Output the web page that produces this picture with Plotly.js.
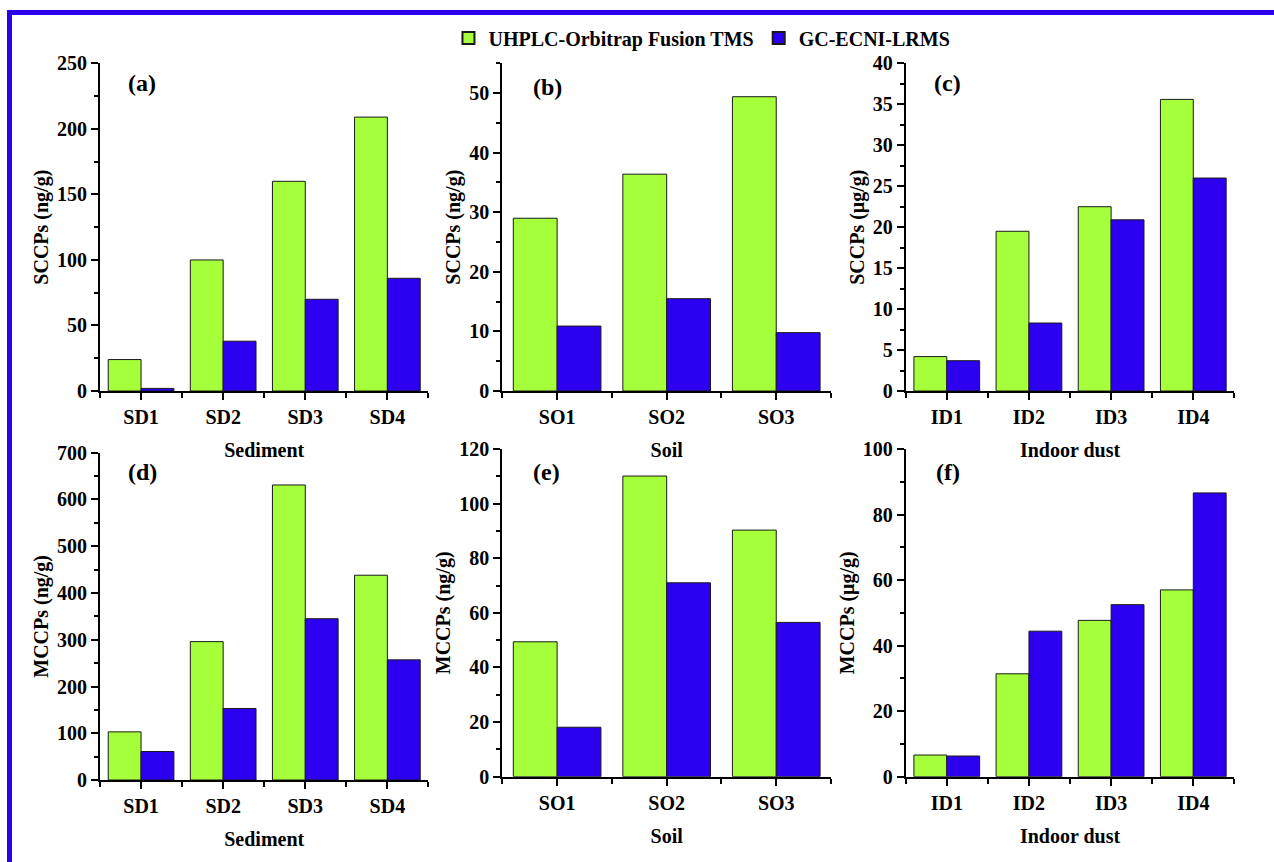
<!DOCTYPE html>
<html>
<head>
<meta charset="utf-8">
<script src="https://cdn.plot.ly/plotly-3.0.1.min.js"></script>
<style>
  html, body { margin: 0; padding: 0; background: #ffffff; }
  #chart { width: 1274px; height: 862px; }
</style>
</head>
<body>
<div id="chart"></div>
<script>
// ---- Data ----
const seriesNames = ["UHPLC-Orbitrap Fusion TMS", "GC-ECNI-LRMS"];

const sedimentSamples = ["SD1", "SD2", "SD3", "SD4"];
const soilSamples = ["SO1", "SO2", "SO3"];
const dustSamples = ["ID1", "ID2", "ID3", "ID4"];

// SCCPs
const sccpSedimentUHPLC = [24, 100, 160, 209];
const sccpSedimentGC = [2, 38, 70, 86];
const sccpSoilUHPLC = [29, 36.4, 49.4];
const sccpSoilGC = [10.9, 15.5, 9.8];
const sccpDustUHPLC = [4.2, 19.5, 22.5, 35.6];
const sccpDustGC = [3.7, 8.3, 20.9, 26.0];

// MCCPs
const mccpSedimentUHPLC = [103, 296, 631, 438];
const mccpSedimentGC = [61, 153, 345, 257];
const mccpSoilUHPLC = [49.4, 110.1, 90.3];
const mccpSoilGC = [18.1, 71.0, 56.5];
const mccpDustUHPLC = [6.6, 31.4, 47.7, 57.0];
const mccpDustGC = [6.3, 44.4, 52.5, 86.6];

const panelLabels = ["(a)", "(b)", "(c)", "(d)", "(e)", "(f)"];
const xTitles = ["Sediment", "Soil", "Indoor dust", "Sediment", "Soil", "Indoor dust"];
const yTitles = ["SCCPs (ng/g)", "SCCPs (ng/g)", "SCCPs (\u03bcg/g)", "MCCPs (ng/g)", "MCCPs (ng/g)", "MCCPs (\u03bcg/g)"];

// ---- Styling ----
const GREEN = "#a5ff3a";
const BLUE = "#2c00ee";
const FONT = "Liberation Serif, Times New Roman, serif";
const FS = 20;

const panels = [
  {cats: sedimentSamples, g: sccpSedimentUHPLC, b: sccpSedimentGC, range: [0, 250], dtick: 50},
  {cats: soilSamples, g: sccpSoilUHPLC, b: sccpSoilGC, range: [0, 55], dtick: 10},
  {cats: dustSamples, g: sccpDustUHPLC, b: sccpDustGC, range: [0, 40], dtick: 5},
  {cats: sedimentSamples, g: mccpSedimentUHPLC, b: mccpSedimentGC, range: [0, 700], dtick: 100},
  {cats: soilSamples, g: mccpSoilUHPLC, b: mccpSoilGC, range: [0, 120], dtick: 20},
  {cats: dustSamples, g: mccpDustUHPLC, b: mccpDustGC, range: [0, 100], dtick: 20}
];

const xDomains = [[0.0785, 0.3363], [0.3943, 0.6523], [0.7109, 0.9689]];
const yDomains = [[0.5464, 0.9265], [0.5464, 0.9265], [0.5464, 0.9265],
                  [0.0951, 0.4748], [0.0990, 0.4791], [0.0990, 0.4791]];
const labelPos = [[0.1112, 0.9037], [0.4301, 0.8994], [0.7441, 0.9037],
                  [0.1122, 0.4528], [0.4291, 0.4528], [0.7441, 0.4528]];

const traces = [];
const layout = {
  width: 1274, height: 862,
  margin: {l: 0, r: 0, t: 0, b: 0},
  paper_bgcolor: "#ffffff",
  plot_bgcolor: "rgba(0,0,0,0)",
  font: {family: FONT, size: FS, color: "#000000", weight: "bold"},
  barmode: "group",
  bargap: 0.2,
  bargroupgap: 0,
  showlegend: true,
  legend: {
    orientation: "h", x: 0.551, y: 0.956, xanchor: "center", yanchor: "middle",
    font: {family: FONT, size: 20, color: "#000000", weight: "bold"},
    bgcolor: "rgba(0,0,0,0)", itemsizing: "constant", traceorder: "normal"
  },
  annotations: [],
  shapes: [
    {type: "line", xref: "paper", yref: "paper", x0: 9.5/1274, x1: 9.5/1274, y0: 0, y1: 1 - 10/862,
     line: {color: "#2c00ee", width: 5}},
    {type: "line", xref: "paper", yref: "paper", x0: 7/1274, x1: 1, y0: 1 - 12.5/862, y1: 1 - 12.5/862,
     line: {color: "#2c00ee", width: 5}}
  ]
};

panels.forEach((p, i) => {
  const n = i + 1;
  const xa = n === 1 ? "x" : "x" + n;
  const ya = n === 1 ? "y" : "y" + n;
  const xs = p.cats.map((c, k) => k);
  const barStyle = (color) => ({color: color, line: {color: "#1a1a1a", width: 1}});
  traces.push({
    type: "bar", name: seriesNames[0], x: xs, y: p.g, xaxis: xa, yaxis: ya,
    marker: barStyle(GREEN), legendgroup: "g", showlegend: i === 0,
    customdata: p.cats, hovertemplate: "%{customdata}: %{y}<extra>" + seriesNames[0] + "</extra>"
  });
  traces.push({
    type: "bar", name: seriesNames[1], x: xs, y: p.b, xaxis: xa, yaxis: ya,
    marker: barStyle(BLUE), legendgroup: "b", showlegend: i === 0,
    customdata: p.cats, hovertemplate: "%{customdata}: %{y}<extra>" + seriesNames[1] + "</extra>"
  });

  const col = i % 3;
  const boundaries = [];
  for (let k = 0; k <= p.cats.length; k++) boundaries.push(k - 0.5);

  layout["xaxis" + (n === 1 ? "" : n)] = {
    domain: xDomains[col], anchor: ya,
    range: [-0.5, p.cats.length - 0.5],
    tickmode: "array", tickvals: xs, ticktext: p.cats,
    ticks: "outside", ticklen: 7, tickwidth: 2, tickcolor: "#000",
    minor: {tickmode: "array", tickvals: boundaries, ticks: "outside", ticklen: 5, tickwidth: 2, tickcolor: "#000"},
    showline: true, linecolor: "#000", linewidth: 2,
    showgrid: false, zeroline: false, fixedrange: true,
    tickfont: {family: FONT, size: FS, color: "#000", weight: "bold"},
    title: {text: xTitles[i], standoff: 16, font: {family: FONT, size: FS, color: "#000", weight: "bold"}}
  };
  layout["yaxis" + (n === 1 ? "" : n)] = {
    domain: yDomains[i], anchor: xa,
    range: p.range, tickmode: "linear", tick0: 0, dtick: p.dtick,
    ticks: "outside", ticklen: 7, tickwidth: 2, tickcolor: "#000",
    minor: {tick0: 0, dtick: p.dtick / 2, ticks: "outside", ticklen: 4, tickwidth: 2, tickcolor: "#000"},
    showline: true, linecolor: "#000", linewidth: 2,
    showgrid: false, zeroline: false, fixedrange: true,
    tickfont: {family: FONT, size: FS, color: "#000", weight: "bold"},
    title: {text: yTitles[i], standoff: 3, font: {family: FONT, size: FS, color: "#000", weight: "bold"}}
  };

  layout.annotations.push({
    text: panelLabels[i], xref: "paper", yref: "paper",
    x: labelPos[i][0], y: labelPos[i][1], xanchor: "center", yanchor: "middle",
    showarrow: false, font: {family: FONT, size: 24, color: "#000", weight: "bold"}
  });
});

Plotly.newPlot("chart", traces, layout, {displayModeBar: false, responsive: false});
</script>
</body>
</html>
